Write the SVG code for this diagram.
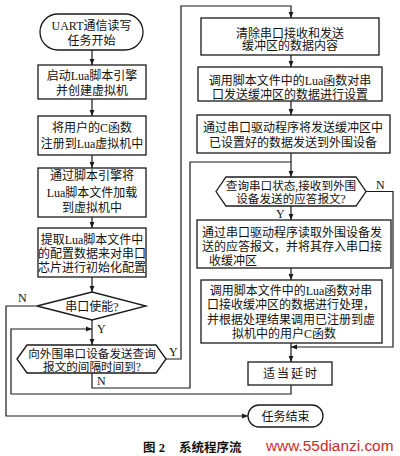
<svg xmlns="http://www.w3.org/2000/svg" width="400" height="456" viewBox="0 0 400 456">
<defs>
<style>
.b{fill:#fff;stroke:#1a1a1a;stroke-width:1.3}
.l{fill:none;stroke:#1a1a1a;stroke-width:1.2}
.t{font-family:"Liberation Serif","Noto Sans CJK SC",serif;font-size:12px;fill:#111;text-anchor:middle}
.s{text-anchor:start}
.lb{font-family:"Liberation Serif","Noto Sans CJK SC",serif;font-size:12px;fill:#111}
.cap{font-family:"Liberation Serif","Noto Sans CJK SC",serif;font-size:12.5px;font-weight:bold;fill:#111}
</style>
<marker id="ah" viewBox="0 0 10 10" refX="10" refY="5" markerWidth="6" markerHeight="6" orient="auto" markerUnits="userSpaceOnUse">
<path d="M0,1 L10,5 L0,9 z" fill="#1a1a1a"/>
</marker>
</defs>
<rect width="400" height="456" fill="#fff"/>

<g id="connectors">
<path class="l" d="M92,50 V65" marker-end="url(#ah)"/>
<path class="l" d="M92,99 V116" marker-end="url(#ah)"/>
<path class="l" d="M92,155 V168" marker-end="url(#ah)"/>
<path class="l" d="M92,217 V228" marker-end="url(#ah)"/>
<path class="l" d="M92,277 V292" marker-end="url(#ah)"/>
<path class="l" d="M92,320 V345" marker-end="url(#ah)"/>
<path class="l" d="M37,306 H6 V416 H248" marker-end="url(#ah)"/>
<path class="l" d="M291,385 V394 H11 V329 H92" marker-end="url(#ah)"/>
<path class="l" d="M166,359 H181 V6 H291 V18" marker-end="url(#ah)"/>
<path class="l" d="M92,373 V388 H190 V162 H291"/>
<path class="l" d="M291,55 V67" marker-end="url(#ah)"/>
<path class="l" d="M291,101 V115" marker-end="url(#ah)"/>
<path class="l" d="M291,153 V177" marker-end="url(#ah)"/>
<path class="l" d="M366,191.5 H393 V347 H291" marker-end="url(#ah)"/>
<path class="l" d="M291,206 V220" marker-end="url(#ah)"/>
<path class="l" d="M291,268 V280" marker-end="url(#ah)"/>
<path class="l" d="M291,343 V362" marker-end="url(#ah)"/>
<text class="lb" x="18" y="302">N</text>
<text class="lb" x="97" y="333">Y</text>
<text class="lb" x="97" y="385">N</text>
<text class="lb" x="169" y="356">Y</text>
<text class="lb" x="376" y="189">N</text>
<text class="lb" x="276" y="218">Y</text>
</g>

<g id="start">
<rect class="b" x="40" y="14" width="103" height="36" rx="18"/>
<text class="t" x="91.5" y="29.5">UART通信读写</text>
<text class="t" x="91.5" y="44.5">任务开始</text>
</g>
<g id="engine">
<rect class="b" x="38" y="65" width="108" height="34"/>
<text class="t" x="92" y="80">启动Lua脚本引擎</text>
<text class="t" x="92" y="95">并创建虚拟机</text>
</g>
<g id="register">
<rect class="b" x="38" y="116" width="108" height="39"/>
<text class="t" x="92" y="131.5">将用户的C函数</text>
<text class="t" x="92" y="147.5">注册到Lua虚拟机中</text>
</g>
<g id="load">
<rect class="b" x="38" y="168" width="108" height="49"/>
<text class="t" x="92" y="180">通过脚本引擎将</text>
<text class="t" x="92" y="196.5">Lua脚本文件加载</text>
<text class="t" x="92" y="212">到虚拟机中</text>
</g>
<g id="config">
<rect class="b" x="38" y="228" width="108" height="49"/>
<text class="t" x="92" y="243.5">提取Lua脚本文件中</text>
<text class="t" x="92" y="257.5">的配置数据来对串口</text>
<text class="t" x="92" y="271.5">芯片进行初始化配置</text>
</g>
<g id="enable">
<polygon class="b" points="37,306 92,292 146,306 92,320"/>
<text class="t" x="92" y="310.5">串口使能?</text>
</g>
<g id="interval">
<polygon class="b" points="17,359 27,345 156,345 166,359 156,373 27,373"/>
<text class="t" x="92" y="357.5" style="font-size:11.6px">向外围串口设备发送查询</text>
<text class="t" x="92" y="371" style="font-size:11.6px">报文的间隔时间到?</text>
</g>

<g id="clear">
<rect class="b" x="201" y="18" width="178" height="37"/>
<text class="t" x="290" y="37.5">清除串口接收和发送</text>
<text class="t" x="290" y="50">缓冲区的数据内容</text>
</g>
<g id="setsend">
<rect class="b" x="198" y="67" width="184" height="34"/>
<text class="t" x="290" y="84.5">调用脚本文件中的Lua函数对串</text>
<text class="t" x="290" y="98.5">口发送缓冲区的数据进行设置</text>
</g>
<g id="send">
<rect class="b" x="197" y="115" width="193" height="38"/>
<text class="t" x="293" y="131.5">通过串口驱动程序将发送缓冲区中</text>
<text class="t" x="293" y="146.5">已设置好的数据发送到外围设备</text>
</g>
<g id="query">
<polygon class="b" points="216,191.5 226,177 356,177 366,191.5 356,206 226,206"/>
<text class="t" x="291" y="189.5" style="font-size:11.6px">查询串口状态,接收到外围</text>
<text class="t" x="291" y="203" style="font-size:11.6px">设备发送的应答报文?</text>
</g>
<g id="read">
<rect class="b" x="197" y="220" width="194" height="48"/>
<text class="t s" x="202" y="236.5">通过串口驱动程序读取外围设备发</text>
<text class="t s" x="202" y="250.5">送的应答报文，并将其存入串口接</text>
<text class="t s" x="209" y="264.5">收缓冲区</text>
</g>
<g id="process">
<rect class="b" x="201" y="280" width="181" height="63"/>
<text class="t" x="291" y="294.5">调用脚本文件中的Lua函数对串</text>
<text class="t" x="291" y="309">口接收缓冲区的数据进行处理，</text>
<text class="t" x="291" y="323.5">并根据处理结果调用已注册到虚</text>
<text class="t" x="284" y="338">拟机中的用户C函数</text>
</g>
<g id="delay">
<rect class="b" x="248" y="362" width="84" height="23"/>
<text class="t" x="291" y="378" style="letter-spacing:2px">适当延时</text>
</g>
<g id="end">
<rect class="b" x="248" y="405" width="75" height="22" rx="11"/>
<text class="t" x="285.5" y="420.5">任务结束</text>
</g>

<text class="cap" x="143" y="452">图 2</text>
<text class="cap" x="179" y="452">系统程序流</text>
<text x="266" y="451" style="font-family:'Liberation Sans',Arial,sans-serif;font-size:15.4px;fill:#cc2a2a">www.55dianzi.com</text>
</svg>
